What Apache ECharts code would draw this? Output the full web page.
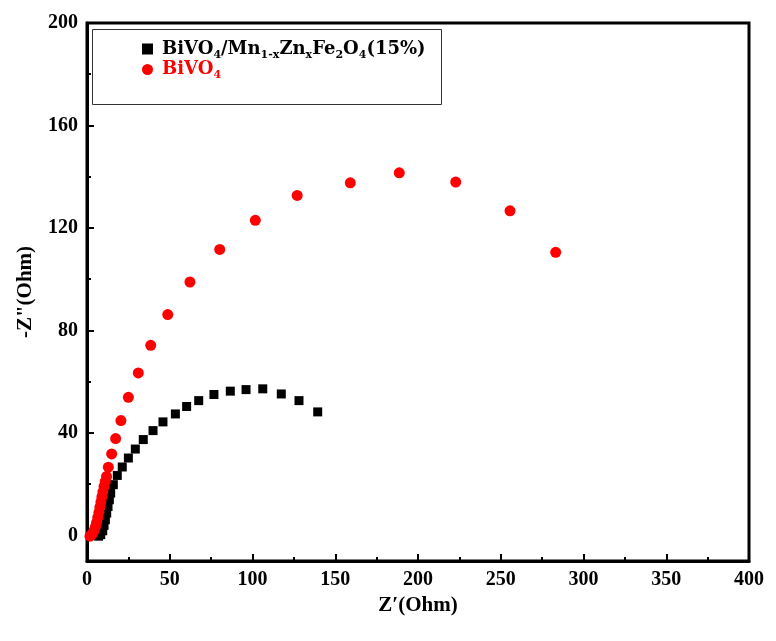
<!DOCTYPE html>
<html>
<head>
<meta charset="utf-8">
<script src="https://cdn.jsdelivr.net/npm/echarts@6/dist/echarts.min.js"></script>
<style>html,body{margin:0;padding:0;background:#fff}#c{width:776px;height:641px}</style>
</head>
<body>
<div id="c"></div>
<script>
// Composite BiVO4/Mn1-xZnxFe2O4(15%) : [Z', -Z'']
const compositeName = 'BiVO4/Mn1-xZnxFe2O4(15%)';
const compositeData = [
  [7.0, -0.3], [8.3, 0.3], [9.5, 1.8], [10.3, 3.9], [11.1, 6.1], [11.9, 8.7],
  [12.7, 11.3], [13.5, 13.9], [14.3, 16.5], [15.9, 19.8], [18.3, 23.4],
  [21.3, 26.7], [25.0, 30.2], [29.2, 33.7], [34.0, 37.4], [39.9, 40.9],
  [45.9, 44.3], [53.4, 47.4], [60.2, 50.3], [67.5, 52.6], [76.7, 55.0],
  [86.6, 56.3], [96.1, 56.9], [106.2, 57.2], [117.4, 55.2], [128.1, 52.6],
  [139.4, 48.2]
];
// Pure BiVO4
const bivoName = 'BiVO4';
const bivoData = [
  [1.8, -0.3], [2.5, 0.1], [3.3, 0.7], [4.2, 1.8], [5.0, 3.2], [5.8, 5.0],
  [6.5, 7.0], [7.2, 9.0], [7.8, 11.0], [8.4, 13.0], [9.0, 15.0], [9.6, 17.0],
  [10.3, 19.1], [11.0, 21.0], [11.8, 23.0], [12.9, 26.6], [14.9, 31.8],
  [17.3, 37.8], [20.5, 44.8], [25.0, 53.9], [31.0, 63.4], [38.5, 74.2],
  [48.8, 86.2], [62.2, 98.9], [80.2, 111.6], [101.7, 123.0], [127.0, 132.7],
  [159.1, 137.6], [188.7, 141.5], [222.8, 137.9], [255.6, 126.7], [283.2, 110.5]
];
const yLabelValues = [0, 40, 80, 120, 160, 200];
const yMinorTickValues = [20, 60, 100, 140, 180];
const xMin = 0, xMax = 400, xInterval = 50;
const yMin = -10, yMax = 200;

const chart = echarts.init(document.getElementById('c'));
const serif = '"Liberation Serif", "Times New Roman", serif';
const legFont = '"DejaVu Serif", serif';
const legendRich = {
  b0: { fontFamily: legFont, fontWeight: 'bold', fontSize: 18, color: '#000', padding: [0, 0, 0, 4] },
  b: { fontFamily: legFont, fontWeight: 'bold', fontSize: 18, color: '#000' },
  s: { fontFamily: legFont, fontWeight: 'bold', fontSize: 11, color: '#000', padding: [12, 0, 0, 0] },
  r: { fontFamily: legFont, fontWeight: 'bold', fontSize: 18, color: '#ff0000', padding: [0, 0, 0, 4] },
  rs: { fontFamily: legFont, fontWeight: 'bold', fontSize: 11, color: '#ff0000', padding: [12, 0, 0, 0] }
};
chart.setOption({
  animation: false,
  backgroundColor: '#fff',
  graphic: [{
    type: 'rect', left: 92, top: 29, z: 5,
    shape: { width: 349, height: 75 },
    style: { fill: '#fff', stroke: '#333', lineWidth: 1 }
  }],
  legend: {
    orient: 'vertical', left: 137, top: 35, z: 10,
    itemGap: 0, itemWidth: 11, itemHeight: 11,
    data: [
      { name: compositeName, icon: 'rect' },
      { name: bivoName, icon: 'circle' }
    ],
    formatter: function (n) {
      if (n === compositeName) {
        return '{b0|BiVO}{s|4}{b|/Mn}{s|1-x}{b|Zn}{s|x}{b|Fe}{s|2}{b|O}{s|4}{b|(15%)}';
      }
      return '{r|BiVO}{rs|4}';
    },
    textStyle: { rich: legendRich }
  },
  grid: { left: 87, right: 27, top: 23, bottom: 80, show: true, borderColor: '#000', borderWidth: 3, backgroundColor: '#fff' },
  xAxis: {
    type: 'value', min: xMin, max: xMax, interval: xInterval,
    name: 'Z\u2032(Ohm)', nameLocation: 'middle', nameGap: 34,
    nameTextStyle: { fontFamily: serif, fontWeight: 'bold', fontSize: 21, color: '#000' },
    axisLine: { onZero: false, lineStyle: { color: '#000', width: 3 } },
    axisTick: { inside: true, length: 7, lineStyle: { color: '#000', width: 2 } },
    minorTick: { show: true, splitNumber: 2, length: 4, lineStyle: { color: '#000', width: 2 } },
    splitLine: { show: false },
    axisLabel: { margin: 9, fontFamily: serif, fontWeight: 'bold', fontSize: 20, color: '#000' }
  },
  yAxis: [{
    type: 'value', min: yMin, max: yMax,
    name: '-Z"(Ohm)', nameLocation: 'middle', nameGap: 51,
    nameTextStyle: { fontFamily: serif, fontWeight: 'bold', fontSize: 21, color: '#000' },
    axisLine: { onZero: false, lineStyle: { color: '#000', width: 3 } },
    axisTick: { inside: true, length: 7, customValues: yLabelValues, lineStyle: { color: '#000', width: 2 } },
    splitLine: { show: false },
    axisLabel: { margin: 9, customValues: yLabelValues, fontFamily: serif, fontWeight: 'bold', fontSize: 20, color: '#000' }
  }, {
    type: 'value', min: yMin, max: yMax, position: 'left',
    axisLine: { show: false, onZero: false },
    axisTick: { inside: true, length: 4, customValues: yMinorTickValues, lineStyle: { color: '#000', width: 2 } },
    splitLine: { show: false },
    axisLabel: { show: false }
  }],
  series: [{
    name: compositeName, type: 'scatter', symbol: 'rect', symbolSize: 9,
    itemStyle: { color: '#000', opacity: 1 }, data: compositeData, clip: false
  }, {
    name: bivoName, type: 'scatter', symbol: 'circle', symbolSize: 11,
    itemStyle: { color: '#ff0000', opacity: 1 }, data: bivoData, clip: false
  }]
});
</script>
</body>
</html>
